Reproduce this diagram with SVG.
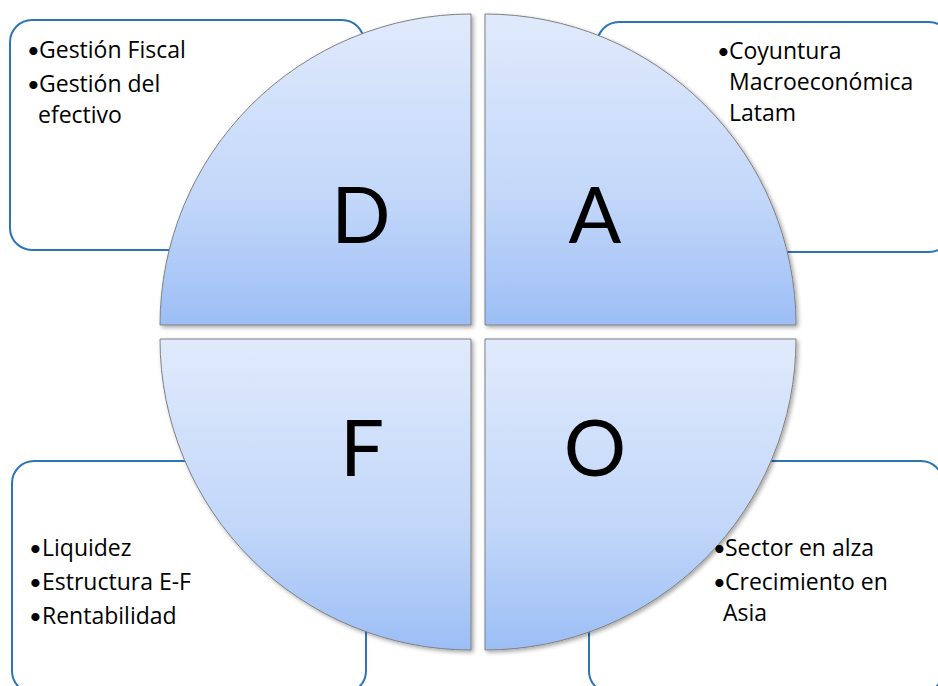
<svg xmlns="http://www.w3.org/2000/svg" width="938" height="686" viewBox="0 0 938 686">
<defs>
<linearGradient id="g" x1="0" y1="0" x2="0" y2="1">
<stop offset="0" stop-color="#e0eafc"/>
<stop offset="0.6" stop-color="#c2d7f9"/>
<stop offset="1" stop-color="#9cbef6"/>
</linearGradient>
<filter id="sh" x="-10%" y="-10%" width="120%" height="120%">
<feDropShadow dx="2" dy="2" stdDeviation="2" flood-color="#000" flood-opacity="0.35"/>
</filter>
</defs>
<style>
.box{fill:#fff;stroke:#2e75b6;stroke-width:2}
.pie{fill:url(#g);stroke:#808080;stroke-width:1;filter:url(#sh)}
.t{font-family:"Open Sans","Liberation Sans",sans-serif;font-size:23px;fill:#000;font-variant-ligatures:none}
.b{font-family:Lato,"Liberation Sans",sans-serif;font-size:22px;fill:#000}
.big{font-family:Lato,"Liberation Sans",sans-serif;font-size:78px;fill:#000;text-anchor:middle}
</style>
<g id="box-d"><rect class="box" x="10" y="20" width="354" height="230" rx="22"/></g>
<g id="box-a"><rect class="box" x="597" y="22" width="354" height="230" rx="22"/></g>
<g id="box-f"><rect class="box" x="12" y="461" width="354" height="232" rx="22"/></g>
<g id="box-o"><rect class="box" x="589" y="461" width="354" height="232" rx="22"/></g>
<g id="connectors"></g>
<g id="pie-d"><path class="pie" d="M471,325 L160,325 A311,311 0 0 1 471,14 Z"/><text class="big" x="361" y="243">D</text></g>
<g id="pie-a"><path class="pie" d="M485,325 L485,14 A311,311 0 0 1 796,325 Z"/><text class="big" x="595" y="243">A</text></g>
<g id="pie-f"><path class="pie" d="M471,339 L471,650 A311,311 0 0 1 160,339 Z"/><text class="big" x="362" y="476">F</text></g>
<g id="pie-o"><path class="pie" d="M485,339 L796,339 A311,311 0 0 1 485,650 Z"/><text class="big" x="595" y="476">O</text></g>
<g id="text-d">
<text class="b" x="27" y="58">•</text><text class="t" x="39" y="58">Gestión Fiscal</text>
<text class="b" x="27" y="92">•</text><text class="t" x="39" y="92">Gestión del</text>
<text class="t" x="38" y="123">efectivo</text>
</g>
<g id="text-a">
<text class="b" x="717" y="59">•</text><text class="t" x="729" y="59">Coyuntura</text>
<text class="t" x="729" y="90">Macroeconómica</text>
<text class="t" x="729" y="121">Latam</text>
</g>
<g id="text-f">
<text class="b" x="29" y="556">•</text><text class="t" x="42" y="556">Liquidez</text>
<text class="b" x="29" y="590">•</text><text class="t" x="42" y="590">Estructura E-F</text>
<text class="b" x="29" y="624">•</text><text class="t" x="42" y="624">Rentabilidad</text>
</g>
<g id="text-o">
<text class="b" x="713" y="556">•</text><text class="t" x="725" y="556">Sector en alza</text>
<text class="b" x="713" y="590">•</text><text class="t" x="725" y="590">Crecimiento en</text>
<text class="t" x="723" y="621">Asia</text>
</g>
</svg>
